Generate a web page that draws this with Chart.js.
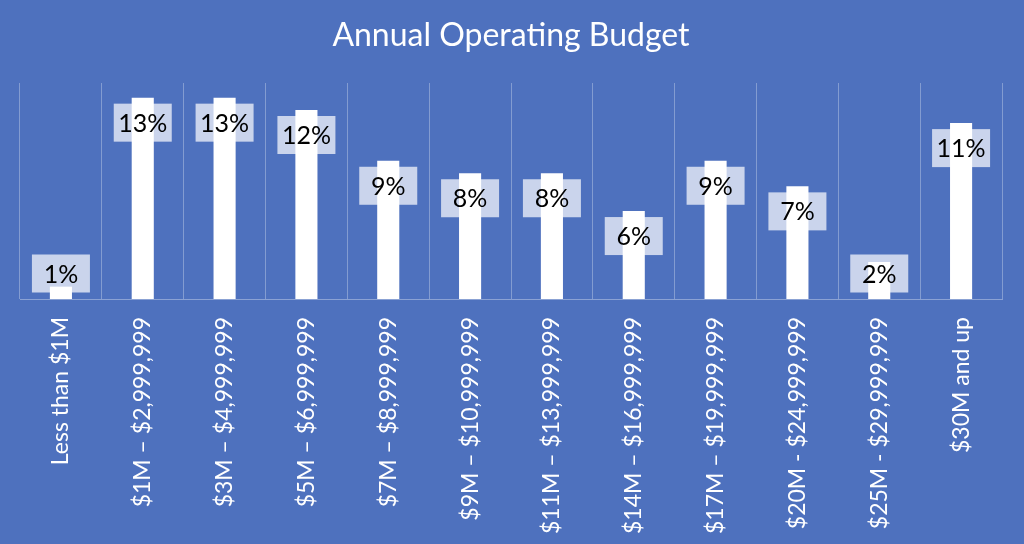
<!DOCTYPE html>
<html>
<head>
<meta charset="utf-8">
<script src="https://cdn.jsdelivr.net/npm/chart.js@4/dist/chart.umd.min.js"></script>
<style>
  html, body { margin: 0; padding: 0; background: #4E71BE; }
  #wrap { position: relative; width: 1024px; height: 544px; }
</style>
</head>
<body>
<div id="wrap"><canvas id="chart-budget"></canvas></div>
<script>
// budget bands and share of respondents (%)
const bands = [
  'Less than $1M', '$1M – $2,999,999', '$3M – $4,999,999', '$5M – $6,999,999',
  '$7M – $8,999,999', '$9M – $10,999,999', '$11M – $13,999,999', '$14M – $16,999,999',
  '$17M – $19,999,999', '$20M - $24,999,999', '$25M - $29,999,999', '$30M and up'
];
const shares = [0.8, 13.05, 13.05, 12.25, 8.96, 8.15, 8.15, 5.7, 8.96, 7.3, 2.4, 11.4];
const chartTitle = 'Annual Operating Budget';

const FONT = 'Lato, "Open Sans", sans-serif';

// percentage boxes drawn on top of each bar
const barLabels = {
  id: 'barLabels',
  afterDatasetsDraw(chart) {
    const ctx = chart.ctx;
    const base = chart.chartArea.bottom;
    const meta = chart.getDatasetMeta(0);
    ctx.save();
    ctx.font = '25px ' + FONT;
    ctx.textAlign = 'center';
    ctx.textBaseline = 'middle';
    meta.data.forEach((bar, i) => {
      const cy = Math.min(bar.y + 25, base - 25.5);
      const w = 58, h = 38;
      ctx.fillStyle = 'rgba(255,255,255,0.7)';
      ctx.fillRect(bar.x - w / 2, cy - h / 2, w, h);
      ctx.fillStyle = '#000';
      ctx.fillText(Math.round(shares[i]) + '%', bar.x, cy + 1);
    });
    ctx.restore();
  }
};

new Chart(document.getElementById('chart-budget'), {
  type: 'bar',
  data: {
    labels: bands,
    datasets: [{
      data: shares,
      backgroundColor: '#FFFFFF',
      borderWidth: 0,
      categoryPercentage: 1,
      barPercentage: 0.27,
    }],
  },
  options: {
    responsive: true,
    maintainAspectRatio: false,
    animation: false,
    layout: { padding: { left: 20, right: 22, top: 0, bottom: 0 } },
    plugins: {
      legend: { display: false },
      tooltip: { enabled: false },
      title: {
        display: true,
        text: chartTitle,
        color: '#FFFFFF',
        font: { family: FONT, size: 32, weight: 'normal' },
        padding: { top: 16, bottom: 28.6 },
      },
    },
    scales: {
      x: {
        grid: { color: 'rgba(255,255,255,0.3)', drawTicks: false, offset: true },
        border: { color: 'rgba(255,255,255,0.35)' },
        ticks: {
          color: '#FFFFFF',
          font: { family: FONT, size: 23 },
          minRotation: 90,
          maxRotation: 90,
          padding: 18,
          autoSkip: false,
        },
        afterFit: s => { s.height = 245; },
      },
      y: {
        display: false,
        min: 0,
        max: 14,
      },
    },
  },
  plugins: [barLabels],
});
</script>
</body>
</html>
